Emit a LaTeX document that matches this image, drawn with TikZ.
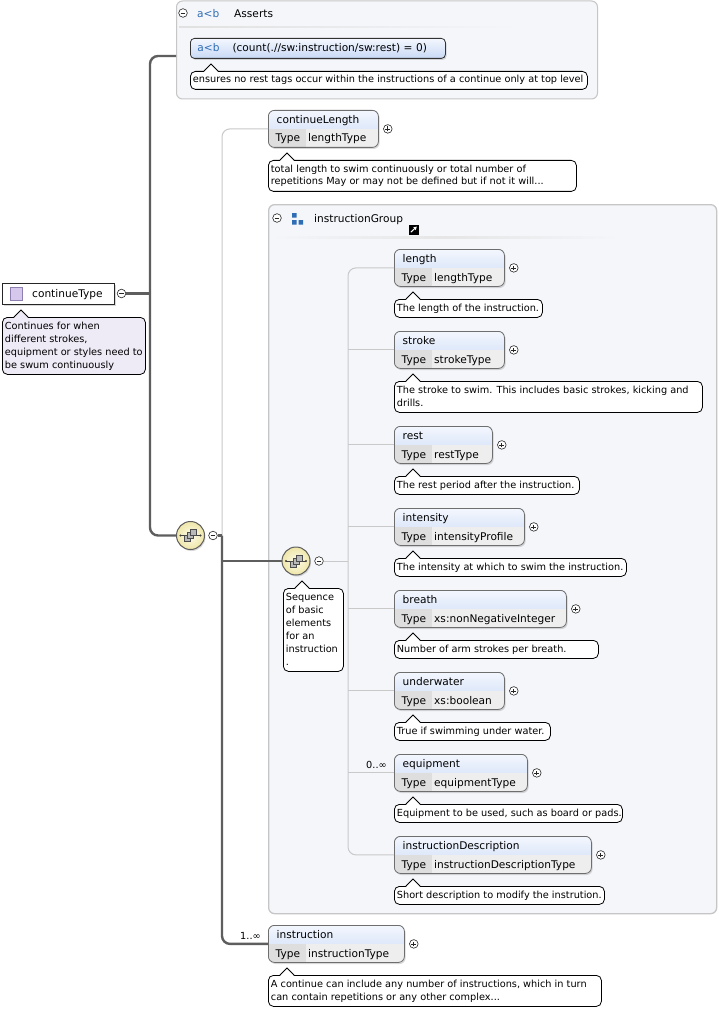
\documentclass[tikz,border=0pt]{standalone}
\usepackage{fontspec}
\setmainfont{DejaVu Sans}
\usepackage{xcolor}
\usepackage{tikz}
\usetikzlibrary{arrows.meta, positioning, calc, shadows}
\definecolor{xsdline}{HTML}{5E5E5E}
\definecolor{xsdthin}{HTML}{C9C9C9}
\definecolor{xsdbg}{HTML}{F4F6FA}
\definecolor{xsdframe}{HTML}{C6C6C6}
\definecolor{xsdedge}{HTML}{6E6E6E}
\definecolor{xsdblueA}{HTML}{F3F7FE}
\definecolor{xsdblueB}{HTML}{C9D9F5}
\definecolor{xsdrow}{HTML}{EEEEEE}
\definecolor{xsdtype}{HTML}{DEDEDE}
\definecolor{xsdlilac}{HTML}{EEEAF6}
\definecolor{xsdicon}{HTML}{D5C8EC}
\definecolor{xsdiconedge}{HTML}{8E7FB0}
\definecolor{xsdcode}{HTML}{2F6DB5}
\definecolor{xsdseqA}{HTML}{FDFBEA}
\definecolor{xsdseqB}{HTML}{EFE6A8}

\newcommand\xsdfont{\fontsize{9.75}{13}\selectfont}
\newcommand\xsdlabel{\fontsize{10.6}{13}\selectfont}
% note text: box width, lines
\newcommand\xsdtext[2]{\makebox[\dimexpr#1pt-5pt\relax][l]{\begin{tabular}{@{}l@{}}#2\end{tabular}}}
% speech-bubble tip on top of a note
\newcommand\xsdnotch[3]{%
  \fill[#3] ([xshift=#2pt-7pt,yshift=-0.8pt]#1.north west) -- ([xshift=#2pt,yshift=7pt]#1.north west)
    -- ([xshift=#2pt+7pt,yshift=-0.8pt]#1.north west) -- cycle;
  \draw[line width=0.8pt] ([xshift=#2pt-7pt]#1.north west) -- ([xshift=#2pt,yshift=7pt]#1.north west)
    -- ([xshift=#2pt+7pt]#1.north west);}
% element box: name, left, top, width, title, type, note, note width
\newcommand\xsdelem[8]{%
  \node[elbox, minimum width=#4pt] (#1) at (#2,#3) {};
  \node[eltext] (#1-name) at ([xshift=8.5pt,yshift=-13.5pt]#1.north west) {#5};
  \node[eltext] (#1-key) at ([xshift=7.5pt,yshift=-32pt]#1.north west) {Type};
  \node[eltext] (#1-type) at ([xshift=40pt,yshift=-32pt]#1.north west) {#6};
  \node[togplus] (#1-tog) at ([xshift=9pt]#1.east) {};
  \node[xnote] (#1-doc) at (#2,#3+50) {\xsdtext{#8}{#7}};
  \xsdnotch{#1-doc}{19}{white}}

\begin{document}
\begin{tikzpicture}[x=1pt, y=-1pt, font=\xsdlabel,
  trunk/.style={draw=xsdline, line width=2.4pt},
  twig/.style={draw=xsdthin, line width=1pt},
  frame/.style={draw=xsdframe, line width=1.3pt, fill=xsdbg, rounded corners=6pt,
    anchor=north west, inner sep=0pt},
  elbox/.style={draw=xsdedge, line width=0.8pt, rounded corners=6pt, anchor=north west,
    minimum height=37pt, inner sep=0pt,
    drop shadow={shadow xshift=1.2pt, shadow yshift=-1.6pt, opacity=0.3},
    path picture={
      \fill[sharp corners, top color=xsdblueA, bottom color=xsdblueB]
        (path picture bounding box.north west) rectangle ([yshift=-19pt]path picture bounding box.north east);
      \fill[sharp corners, xsdrow] ([yshift=-19pt]path picture bounding box.north west)
        rectangle (path picture bounding box.south east);
      \fill[sharp corners, xsdtype] ([yshift=-19pt]path picture bounding box.north west)
        rectangle ([xshift=37.5pt]path picture bounding box.south west);}},
  eltext/.style={anchor=base west, inner sep=0pt},
  xnote/.style={draw=black, line width=0.8pt, fill=white, rounded corners=5pt, anchor=north west,
    inner xsep=2.5pt, inner ysep=2.5pt, font=\xsdfont},
  togminus/.style={circle, draw=black!85, line width=0.6pt, fill=white, minimum size=8.6pt, inner sep=0pt,
    path picture={\draw[line width=0.7pt] ([xshift=-2.4pt]path picture bounding box.center)
      -- ([xshift=2.4pt]path picture bounding box.center);}},
  togplus/.style={circle, draw=black!85, line width=0.6pt, fill=white, minimum size=8.6pt, inner sep=0pt,
    path picture={\draw[line width=0.7pt] ([xshift=-2.4pt]path picture bounding box.center)
      -- ([xshift=2.4pt]path picture bounding box.center);
      \draw[line width=0.7pt] ([yshift=-2.4pt]path picture bounding box.center)
      -- ([yshift=2.4pt]path picture bounding box.center);}},
  seqicon/.style={circle, draw=xsdline, line width=1pt, minimum size=28pt, inner sep=0pt,
    inner color=xsdseqA, outer color=xsdseqB,
    drop shadow={shadow xshift=1pt, shadow yshift=-1.5pt, opacity=0.3},
    path picture={
      \begin{scope}[shift={(path picture bounding box.center)}, sharp corners]
        \draw[black!75, line width=0.7pt] (-10,0) -- (10,0);
        \fill[black!75] (-10,0) circle (1.1) (10,0) circle (1.1);
        \foreach \dx/\dy in {-3/3, 0/0, 3/-3}
          \filldraw[fill=gray!55, draw=black!70, line width=0.5pt] (\dx-3,\dy-3) rectangle (\dx+3,\dy+3);
      \end{scope}}}]
  \useasboundingbox (0,0) rectangle (718,1011);
  \fill[white] (0,0) rectangle (718,1011);

  % asserts
  \node[frame, line width=1pt, minimum width=421pt, minimum height=98pt] (asrt) at (176,0.5) {};
  \node[togminus] (asrt-tog) at (183,13) {};
  \node[eltext, text=xsdcode] (asrt-op) at (197,17.5) {a<b};
  \node[eltext] (asrt-name) at (234,17.5) {Asserts};
  \shade[left color=black!12, right color=xsdbg] (179,26.5) rectangle (520,28);
  \node[draw=black!80, line width=0.8pt, rounded corners=4pt, anchor=north west, minimum height=20pt,
    inner xsep=7pt, text width=241pt, align=left, top color=xsdblueA, bottom color=xsdblueB,
    drop shadow={shadow xshift=1.2pt, shadow yshift=-1.6pt, opacity=0.3}] (asx) at (190,38)
    {\textcolor{xsdcode}{a<b}\hspace{13pt}(count(.//sw:instruction/sw:rest) = 0)};
  \node[xnote] (asx-doc) at (190,71)
    {\xsdtext{397}{ensures no rest tags occur within the instructions of a continue only at top level}};
  \xsdnotch{asx-doc}{21}{white}

  % root type
  \node[draw=black!85, line width=0.9pt, fill=white, anchor=north west, minimum width=112pt,
    minimum height=21pt, inner sep=0pt,
    drop shadow={shadow xshift=1.2pt, shadow yshift=-1.6pt, opacity=0.3}] (ct) at (2,283) {};
  \filldraw[fill=xsdicon, draw=xsdiconedge, line width=0.7pt] (10,287.5) rectangle (22.5,300);
  \node[eltext] (ct-name) at (32,297.5) {continueType};
  \node[togminus] (ct-tog) at (121.5,293.5) {};
  \node[xnote, fill=xsdlilac] (ct-doc) at (2,317)
    {\xsdtext{143}{Continues for when\\different strokes,\\equipment or styles need to\\be swum continuously}};
  \xsdnotch{ct-doc}{19}{xsdlilac}

  % outer sequence
  \node[seqicon] (seq) at (190.5,535.5) {};
  \node[togminus] (seq-tog) at (213,535.5) {};
  \xsdelem{clen}{268}{110}{110}{continueLength}{lengthType}{total length to swim continuously or total number of\\repetitions May or may not be defined but if not it will...}{308}

  % group
  \node[frame, minimum width=448pt, minimum height=709pt] (grp) at (268,204) {};
  \node[togminus] (grp-tog) at (277,218) {};
  \fill[xsdcode] (292,213) rectangle (296.5,217.5) (292,220) rectangle (296.5,224.5)
    (298.5,220) rectangle (303,224.5);
  \node[eltext] (grp-name) at (314,222) {instructionGroup};
  \fill[black] (408.5,224.5) rectangle (419,234.5);
  \draw[white, line width=1pt, -{Triangle[length=3.2pt, width=3.6pt]}] (410.8,232.2) -- (416.8,226.6);
  \shade[left color=xsdbg, right color=xsdbg, middle color=black!10] (270,236.5) rectangle (620,238);
  \node[seqicon] (grpseq) at (296,561) {};
  \node[togminus] (grpseq-tog) at (319,561) {};
  \node[xnote] (grpseq-doc) at (283,588) {\xsdtext{60}{Sequence\\of basic\\elements\\for an\\instruction\\.}};
  \xsdnotch{grpseq-doc}{19}{white}

  \xsdelem{len}{394}{249}{110}{length}{lengthType}{The length of the instruction.}{148}
  \xsdelem{stroke}{394}{331}{110}{stroke}{strokeType}{The stroke to swim. This includes basic strokes, kicking and\\drills.}{308}
  \xsdelem{rest}{394}{426}{98}{rest}{restType}{The rest period after the instruction.}{185}
  \xsdelem{intensity}{394}{508}{130}{intensity}{intensityProfile}{The intensity at which to swim the instruction.}{232}
  \xsdelem{breath}{394}{590}{172}{breath}{xs:nonNegativeInteger}{Number of arm strokes per breath.}{204}
  \xsdelem{uwater}{394}{672}{110}{underwater}{xs:boolean}{True if swimming under water.}{156}
  \xsdelem{equip}{394}{754}{133}{equipment}{equipmentType}{Equipment to be used, such as board or pads.}{228}
  \xsdelem{idesc}{394}{836}{197}{instructionDescription}{instructionDescriptionType}{Short description to modify the instrution.}{210}
  \node[eltext, font=\xsdfont] (equip-occ) at (366,768.5) {0..∞};

  \xsdelem{instr}{268}{925}{136}{instruction}{instructionType}{A continue can include any number of instructions, which in turn\\can contain repetitions or any other complex...}{333}
  \node[eltext, font=\xsdfont] (instr-occ) at (240,939.5) {1..∞};

  % connectors
  \coordinate (hub) at (150,293.5);
  \coordinate (fork) at (222,535.5);
  \coordinate (rail) at (348,561);
  \draw[twig, rounded corners=8pt] (fork) |- (clen.west);
  \draw[twig] (grpseq-tog.east) -- (rail);
  \draw[twig, rounded corners=8pt] (len.west) -| (rail) |- (idesc.west);
  \foreach \e in {stroke, rest, intensity, breath, uwater, equip}
    \draw[twig] (\e.west) -- (\e.west -| rail);
  \draw[trunk] (ct-tog.east) -- (hub);
  \draw[trunk, rounded corners=8pt] ([yshift=-6pt]asrt.west) -| (hub) |- (seq.west);
  \draw[trunk] (seq-tog.east) -- (fork);
  \draw[trunk, rounded corners=8pt] (fork) |- (instr.west);
  \draw[trunk] (fork |- grpseq) -- (grpseq.west);
\end{tikzpicture}
\end{document}
